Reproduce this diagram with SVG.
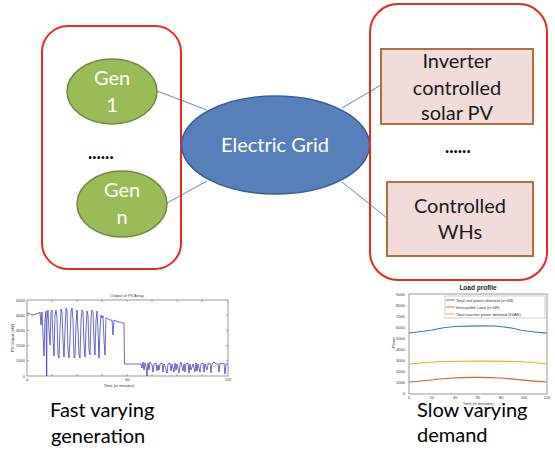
<svg xmlns="http://www.w3.org/2000/svg" width="555" height="452" viewBox="0 0 555 452">
<style>
.group{fill:none;stroke:#E8291F;stroke-width:2}
.gen{fill:#9BBB59;stroke:#71893F;stroke-width:1.5}
.grid{fill:#5680BA;stroke:#3A5F8E;stroke-width:1.5}
.box{fill:#F2DCDB;stroke:#B0703D;stroke-width:2}
.wt{font-family:Lato,"Open Sans",sans-serif;font-size:20px;fill:#ffffff;text-anchor:middle}
.bt{font-family:Lato,"Open Sans",sans-serif;font-size:20px;fill:#1a1a1a;text-anchor:middle}
.cap{font-family:Lato,"Open Sans",sans-serif;font-size:20px;fill:#000000}
.conn{stroke:#5B8BC9;stroke-width:1;fill:none}
.ax{fill:none;stroke:#555;stroke-width:0.6}
.tk{font-family:"Liberation Sans",Arial,sans-serif;font-size:4px;fill:#333}
.tkr{font-family:"Liberation Sans",Arial,sans-serif;font-size:4px;fill:#333;text-anchor:end}
.tkm{font-family:"Liberation Sans",Arial,sans-serif;font-size:4px;fill:#333;text-anchor:middle}
</style>

<g id="connectors">
<line class="conn" x1="157" y1="91" x2="207" y2="110"/>
<line class="conn" x1="167" y1="203" x2="207" y2="181"/>
<line class="conn" x1="342" y1="108" x2="381" y2="85"/>
<line class="conn" x1="342" y1="182" x2="387" y2="218"/>
</g>

<g id="generators-group">
<rect class="group" x="42" y="26" width="139" height="243" rx="26"/>
</g>
<g id="gen1">
<ellipse class="gen" cx="112" cy="91.5" rx="45" ry="32.5"/>
<text class="wt" x="112" y="85">Gen</text>
<text class="wt" x="112" y="112">1</text>
</g>
<g id="gen-dots">
<text x="88" y="159" font-family="Lato,'Open Sans',sans-serif" font-size="18" font-weight="bold" fill="#000">......</text>
</g>
<g id="genn">
<ellipse class="gen" cx="122" cy="204" rx="45" ry="33"/>
<text class="wt" x="122" y="197">Gen</text>
<text class="wt" x="122" y="224">n</text>
</g>

<g id="electric-grid">
<ellipse class="grid" cx="275.5" cy="145" rx="94" ry="49"/>
<text class="wt" x="275" y="152">Electric Grid</text>
</g>

<g id="controlled-group">
<rect class="group" x="370" y="4" width="177" height="276" rx="28"/>
</g>
<g id="inverter-pv">
<rect class="box" x="381" y="49" width="152" height="75"/>
<text class="bt" x="457" y="68">Inverter</text>
<text class="bt" x="457" y="95">controlled</text>
<text class="bt" x="457" y="120">solar PV</text>
</g>
<g id="right-dots">
<text x="445" y="153" font-family="Lato,'Open Sans',sans-serif" font-size="18" font-weight="bold" fill="#000">......</text>
</g>
<g id="controlled-whs">
<rect class="box" x="387" y="182" width="146" height="74"/>
<text class="bt" x="460" y="213">Controlled</text>
<text class="bt" x="460" y="239">WHs</text>
</g>

<g id="pv-plot">
<text class="tkm" x="127" y="297">Output of PV Array</text>
<rect class="ax" x="27" y="300" width="201" height="76"/>
<g stroke="#555" stroke-width="0.5">
<path d="M52,376v-2M77,376v-2M102,376v-2M127,376v-2M152,376v-2M177,376v-2M202,376v-2M52,300v2M77,300v2M102,300v2M127,300v2M152,300v2M177,300v2M202,300v2"/>
<path d="M27,315.2h2M27,330.4h2M27,345.6h2M27,360.8h2M228,315.2h-2M228,330.4h-2M228,345.6h-2M228,360.8h-2"/>
</g>
<text class="tkr" x="25" y="301.5">5000</text>
<text class="tkr" x="25" y="316.7">4000</text>
<text class="tkr" x="25" y="331.9">3000</text>
<text class="tkr" x="25" y="347.1">2000</text>
<text class="tkr" x="25" y="362.3">1000</text>
<text class="tkr" x="25" y="377.5">0</text>
<text class="tkm" x="27" y="381">0</text>
<text class="tkm" x="127.5" y="381">60</text>
<text class="tkm" x="228" y="381">120</text>
<text class="tkm" x="119" y="387">Time (in minutes)</text>
<text class="tkm" transform="translate(14,338) rotate(-90)">PV Output (kW)</text>
<polyline fill="none" stroke="#2A2ABF" stroke-width="0.7" stroke-linejoin="round" points="27,313 30,314 33,315 36,314 39,313 40,312 41,325 42,312 43,335 44,356 45,320 46,311 46.7,376 47,320 48,310 49,330 50,345 51,312 52,310 53,340 54,356 55,315 56,310 57,318 58,355 59,358 60,330 61,309 62,312 63,340 64,357 65,330 66,308 67,310 68,350 69,358 70,340 71,312 72,308 73,320 74,358 75,357 76,325 77,310 78,330 79,355 80,358 81,320 82,310 83,312 84,345 85,357 86,330 87,311 88,315 89,350 90,355 91,318 92,310 93,312 94,340 95,355 96,320 97,311 98,330 99,358 100,330 101,315 102,318 103,316 104,340 105,355 106,318 107,318 108,319 110,320 112,320 113,335 114,320 116,321 118,322 120,322 122,323 124,323 124.5,364 130,364 136,364 141,364 142,368 143,362 144,370 145,363 146,366 147,376 148,363 149,370 150,362 152,365 153,372 154,364 156,363 157,371 158,365 159,370 160,364 162,363 163,372 164,364 165,366 167,373 168,364 170,363 171,371 172,364 174,372 175,363 176,370 177,364 179,373 180,365 181,362 183,371 184,364 185,372 186,364 188,363 189,373 190,364 191,370 193,364 195,372 196,363 197,371 198,364 200,372 201,364 203,363 204,372 205,364 207,370 208,364 210,363 211,373 212,364 214,362 216,364 218,364 219,372 220,363 222,364 224,363 225,374 226,364 228,364"/>
</g>

<g id="load-plot">
<text x="478" y="290" font-family="'Liberation Sans',Arial,sans-serif" font-size="6.5" font-weight="bold" fill="#222" text-anchor="middle">Load profile</text>
<rect class="ax" x="409" y="294" width="138" height="100"/>
<text class="tkr" x="405" y="295.5">9000</text>
<text class="tkr" x="405" y="306.6">8000</text>
<text class="tkr" x="405" y="317.7">7000</text>
<text class="tkr" x="405" y="328.8">6000</text>
<text class="tkr" x="405" y="339.9">5000</text>
<text class="tkr" x="405" y="351">4000</text>
<text class="tkr" x="405" y="362.1">3000</text>
<text class="tkr" x="405" y="373.2">2000</text>
<text class="tkr" x="405" y="384.3">1000</text>
<text class="tkr" x="405" y="395.4">0</text>
<text class="tkm" x="409" y="398.5" font-size="3.5">0</text>
<text class="tkm" x="432" y="398.5" font-size="3.5">20</text>
<text class="tkm" x="455" y="398.5" font-size="3.5">40</text>
<text class="tkm" x="478" y="398.5" font-size="3.5">60</text>
<text class="tkm" x="501" y="398.5" font-size="3.5">80</text>
<text class="tkm" x="524" y="398.5" font-size="3.5">100</text>
<text class="tkm" x="547" y="398.5" font-size="3.5">120</text>
<text class="tkm" x="478" y="405" font-size="4.5">Time (in minutes)</text>
<text class="tkm" font-size="5" transform="translate(395,342) rotate(-90)">Power</text>
<path d="M409,333 C420,332 425,331 432,330 C440,328 446,327 455,326.5 C466,326 480,325.5 495,326 C505,326.5 512,328 520,330 C530,332 540,332.5 547,333" fill="none" stroke="#2E7EBD" stroke-width="1.2"/>
<path d="M409,364 C420,363 430,362 445,361.5 C465,361 495,361 515,361.5 C530,362 540,363 547,364" fill="none" stroke="#EDB120" stroke-width="1.2"/>
<path d="M409,382 C420,381.5 430,380 445,378.5 C460,377.5 480,377 500,378 C515,379 530,381 547,382" fill="none" stroke="#D5622E" stroke-width="1.2"/>
<rect x="445" y="296" width="100" height="22" fill="#fff" stroke="#888" stroke-width="0.4"/>
<line x1="446" y1="300" x2="455" y2="300" stroke="#2E7EBD" stroke-width="0.9"/>
<line x1="446" y1="307" x2="455" y2="307" stroke="#D5622E" stroke-width="0.9"/>
<line x1="446" y1="314" x2="455" y2="314" stroke="#EDB120" stroke-width="0.9"/>
<text class="tk" x="456" y="301.5" font-size="4.4">Total real power demand (in kW)</text>
<text class="tk" x="456" y="308.5" font-size="4.4">Interuptible Load (in kW)</text>
<text class="tk" x="456" y="315.5" font-size="4.4">Total reactive power demand (kVAR)</text>
</g>

<g id="captions">
<text class="cap" x="50" y="417">Fast varying</text>
<text class="cap" x="51" y="443">generation</text>
<text class="cap" x="417" y="417">Slow varying</text>
<text class="cap" x="417" y="442">demand</text>
</g>
</svg>
